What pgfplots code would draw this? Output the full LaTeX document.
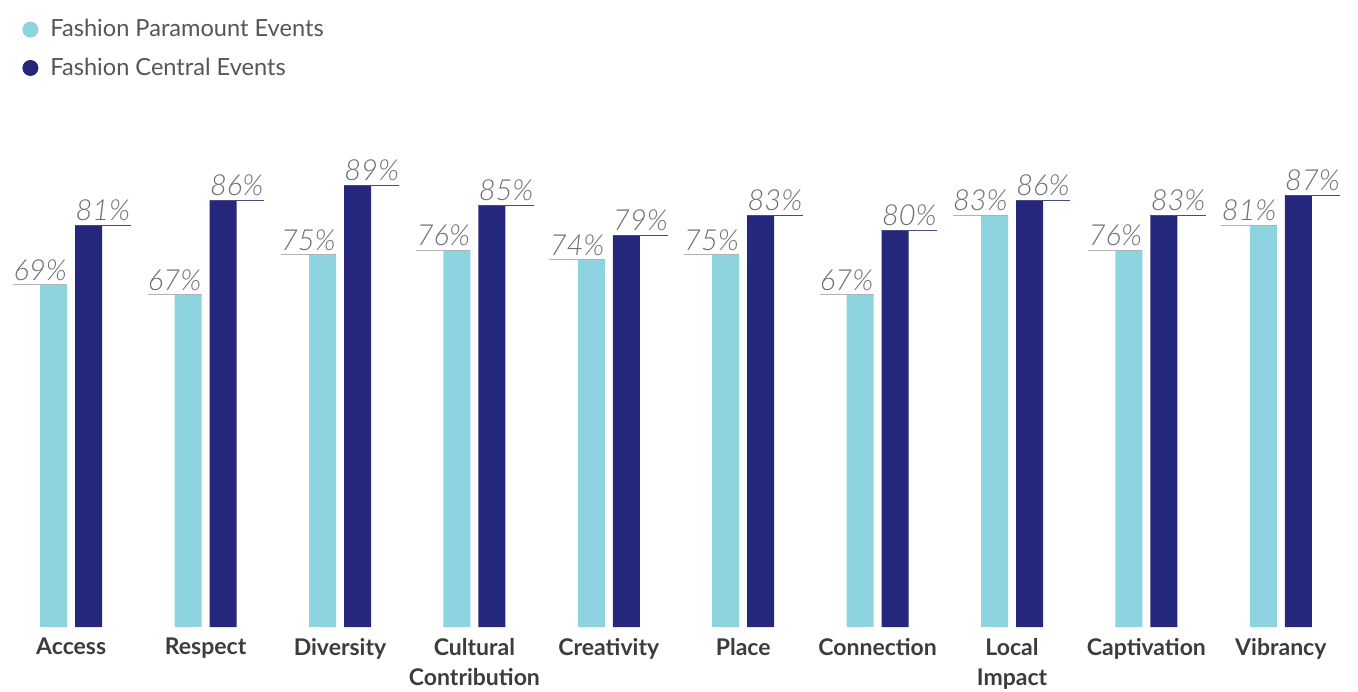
\documentclass[border=0pt]{standalone}
\usepackage{pgfplots}
\pgfplotsset{compat=1.18}
\usepackage{fontspec}
\setmainfont{Lato}
\newfontfamily\latolight{Lato Light}
\definecolor{lightbar}{RGB}{142,211,224}
\definecolor{darkbar}{RGB}{36,39,124}
\definecolor{valgray}{RGB}{110,110,120}
\definecolor{catgray}{RGB}{60,60,64}
\definecolor{leggray}{RGB}{85,85,90}
\begin{document}
\begin{tikzpicture}
\begin{axis}[
  at={(0,0)}, anchor=south west,
  scale only axis,
  width=672pt, height=248pt,
  xmin=-0.5, xmax=9.5, ymin=0, ymax=100,
  axis x line=bottom,
  axis y line=none,
  x axis line style={draw=none, -},
  xtick style={draw=none},
  clip=false,
  ybar,
  bar width=13.5pt,
  xtick={0,...,9},
  xticklabels={Access,Respect,Diversity,{Cultural\\Contribution},Creativity,Place,Connection,{Local\\Impact},Captivation,Vibrancy},
  major tick length=0pt,
  xticklabel style={align=center, text=catgray, font=\bfseries\fontsize{11.5}{15}\selectfont, anchor=north, yshift=-2pt},
  point meta=y,
  nodes near coords={\pgfmathprintnumber[assume math mode=true]{\pgfplotspointmeta}\%},
  legend style={at={(axis description cs:0,1)}, anchor=north west, xshift=8pt, yshift=59pt, draw=none, fill=none,
    font=\fontsize{11.8}{13}\selectfont, text=leggray, row sep=5pt, inner sep=1pt,
    /tikz/every even column/.append style={column sep=2pt},
    nodes={inner xsep=6pt}},
  legend cell align=left,
]
\addplot[fill=lightbar, draw=none, bar shift=-8.75pt,
  legend image code/.code={\fill[lightbar] (4pt,0pt) circle (4pt);},
  nodes near coords style={anchor=south east, xshift=6.75pt, inner xsep=0pt, inner ysep=2pt, text=valgray,
    font=\latolight\itshape\fontsize{14.5}{16}\selectfont,
    append after command={(\tikzlastnode.south west) edge[draw=gray!60, line width=0.5pt] (\tikzlastnode.south east)}}]
  coordinates {(0,69) (1,67) (2,75) (3,76) (4,74) (5,75) (6,67) (7,83) (8,76) (9,81)};
\addlegendentry{Fashion Paramount Events}
\addplot[fill=darkbar, draw=none, bar shift=8.75pt,
  legend image code/.code={\fill[darkbar] (4pt,0pt) circle (4pt);},
  nodes near coords style={anchor=south west, xshift=-6.75pt, inner xsep=0pt, inner ysep=2pt, text=valgray,
    font=\latolight\itshape\fontsize{14.5}{16}\selectfont,
    append after command={(\tikzlastnode.south west) edge[draw=darkbar!60!gray, line width=0.5pt] (\tikzlastnode.south east)}}]
  coordinates {(0,81) (1,86) (2,89) (3,85) (4,79) (5,83) (6,80) (7,86) (8,83) (9,87)};
\addlegendentry{Fashion Central Events}
\end{axis}
\pgfresetboundingbox
\path (-2pt,-32pt) rectangle (677pt,313.5pt);
\end{tikzpicture}
\end{document}
